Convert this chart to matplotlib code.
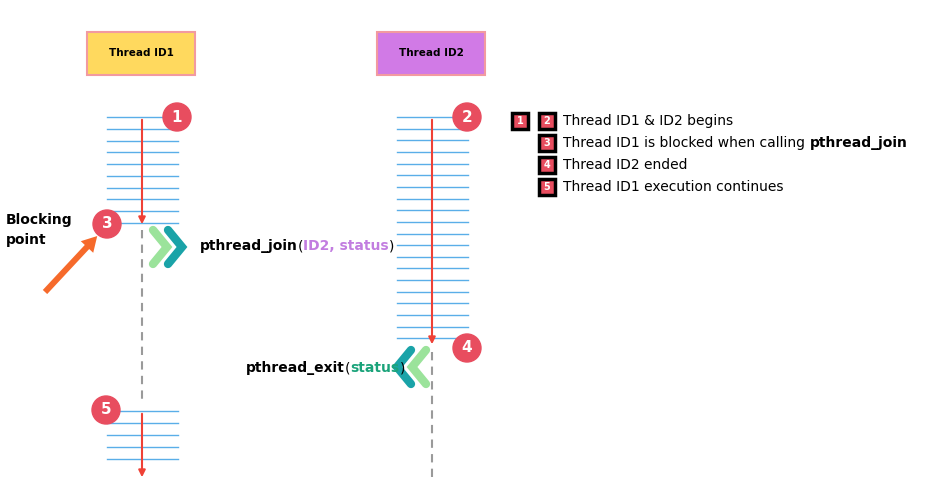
import matplotlib.pyplot as plt
from matplotlib.patches import Rectangle, Circle, FancyArrow

# diagram content
thread_names = ["Thread ID1", "Thread ID2"]
thread_x = [142, 432]
header_colors = ["#ffd95e", "#d17ae6"]
id1_top_lines = [117, 129, 141, 152, 164, 176, 188, 199, 211, 223]
id1_bottom_lines = [411, 423, 435, 447, 459]
id2_lines = [117 + i * 11.65 for i in range(20)]
steps = [(1, 177, 117), (2, 467, 117), (3, 107, 224), (4, 467, 348), (5, 106, 410)]
legend_rows = [("Thread ID1 & ID2 begins", None),
               ("Thread ID1 is blocked when calling ", "pthread_join"),
               ("Thread ID2 ended", None),
               ("Thread ID1 execution continues", None)]

red = "#ef4136"
blue = "#5aaee8"
circ = "#e84d5f"

fig = plt.figure(figsize=(9.3, 5.04), dpi=100)
ax = fig.add_axes([0, 0, 1, 1])
ax.set_xlim(0, 930)
ax.set_ylim(504, 0)
ax.axis("off")

for name, x, c in zip(thread_names, thread_x, header_colors):
    ax.add_patch(Rectangle((x - 55, 32), 108, 43, fc=c, ec="#f29aa0", lw=1.5))
    ax.text(x - 1, 53, name, ha="center", va="center", fontsize=7.5, fontweight="bold")

def rungs(x, ys):
    for y in ys:
        ax.plot([x - 35, x + 36], [y, y], color=blue, lw=1)

rungs(142, id1_top_lines)
rungs(142, id1_bottom_lines)
rungs(432, id2_lines)

def red_arrow(x, y0, y1):
    ax.annotate("", xy=(x, y1), xytext=(x, y0),
                arrowprops=dict(arrowstyle="-|>", color=red, lw=1.5, mutation_scale=10))

red_arrow(142, 117, 227)
red_arrow(142, 411, 480)
red_arrow(432, 117, 347)
ax.plot([142, 142], [230, 400], color="#9a9a9a", lw=1.5, ls=(0, (4, 3)))
ax.plot([432, 432], [352, 478], color="#9a9a9a", lw=1.5, ls=(0, (4, 3)))

for n, x, y in steps:
    ax.add_patch(Circle((x, y), 14, color=circ, zorder=5))
    ax.text(x, y, str(n), ha="center", va="center", color="white",
            fontsize=11, fontweight="bold", zorder=6)

# chevrons
def chevron(x, y, direction, color):
    d = direction
    ax.plot([x, x + 14 * d, x], [y - 17, y, y + 17], color=color, lw=6,
            solid_capstyle="round", solid_joinstyle="miter")

chevron(153, 247, 1, "#9be39b")
chevron(168, 247, 1, "#1aa3a8")
chevron(426, 367, -1, "#9be39b")
chevron(411, 367, -1, "#1aa3a8")

def chain(x, y, parts, ha="left"):
    prev = None
    for txt, weight, color in parts:
        if prev is None:
            prev = ax.text(x, y, txt, va="center", fontsize=10, fontweight=weight, color=color)
        else:
            prev = ax.annotate(txt, xy=(1, 0.5), xycoords=prev, va="center", ha="left",
                               fontsize=10, fontweight=weight, color=color)

chain(200, 246, [("pthread_join", "bold", "black"), ("(", "normal", "black"),
                 ("ID2, status", "bold", "#c27de0"), (")", "normal", "black")])
chain(246, 368, [("pthread_exit", "bold", "black"), ("(", "normal", "black"),
                 ("status", "bold", "#1aa37a"), (")", "normal", "black")])

ax.text(6, 230, "Blocking\npoint", va="center", fontsize=10, fontweight="bold", linespacing=1.5)
ax.add_patch(FancyArrow(45, 292, 42, -45, width=6, head_width=17, head_length=15,
                        color="#f66a2b", lw=0))

# legend
def badge(x, y, n):
    ax.add_patch(Rectangle((x - 8, y - 8), 16, 16, fc=circ, ec="black", lw=2.5))
    ax.text(x, y, str(n), ha="center", va="center", color="white", fontsize=7, fontweight="bold")

row_y = [121, 143, 165, 187]
badge(520, 121, 1)
for i, ((txt, bold), y) in enumerate(zip(legend_rows, row_y)):
    badge(547, y, i + 2)
    t = ax.text(563, y, txt, va="center", fontsize=10)
    if bold:
        ax.annotate(bold, xy=(1, 0.5), xycoords=t, va="center", fontsize=10, fontweight="bold")

fig.savefig("out.png", dpi=100)
